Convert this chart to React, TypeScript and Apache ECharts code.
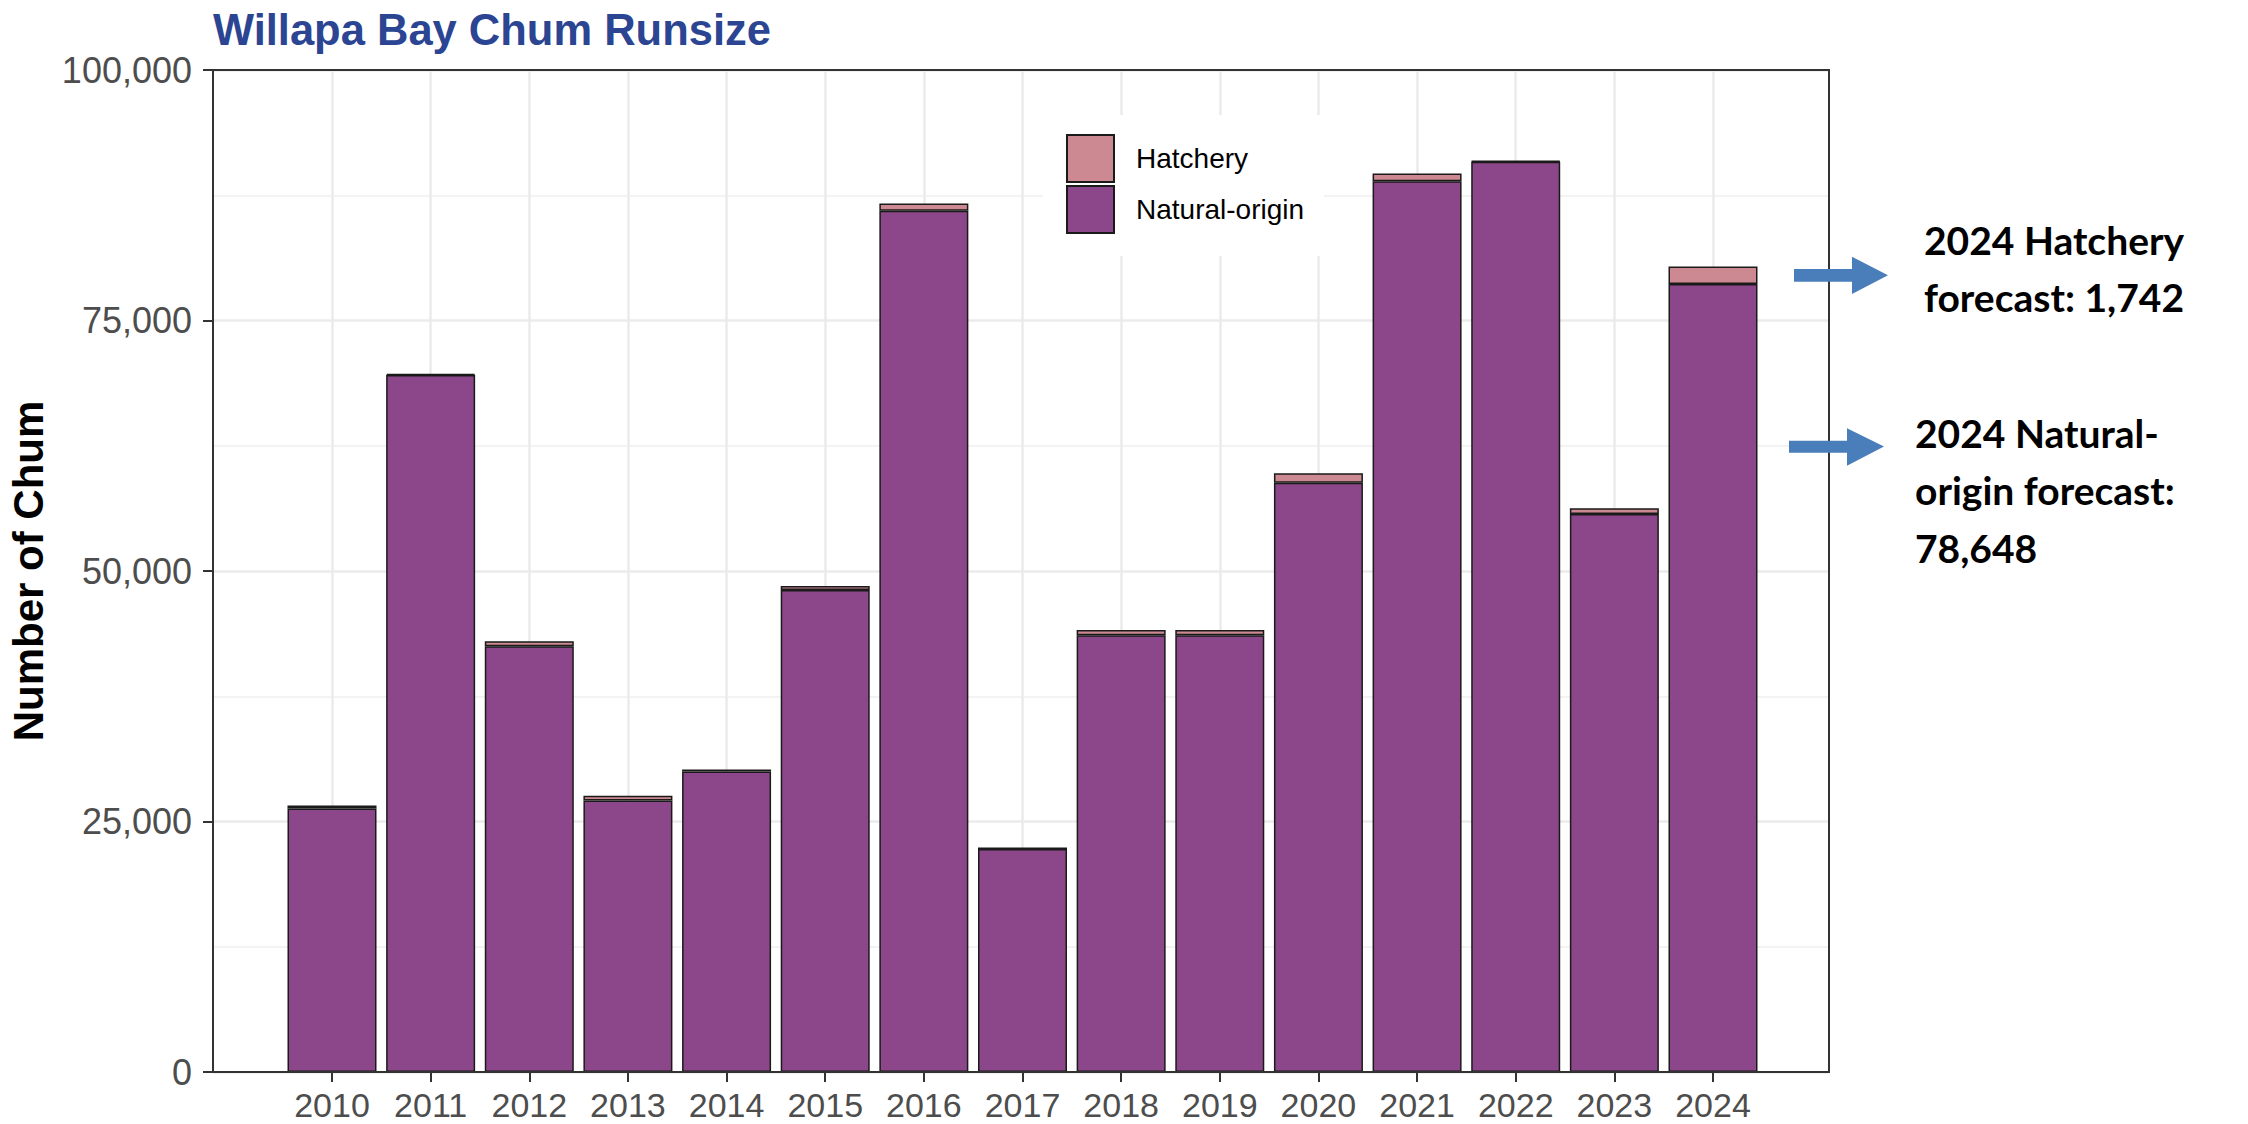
import React, { useEffect, useRef } from "react";
import * as echarts from "echarts";

const years = ["2010","2011","2012","2013","2014","2015","2016","2017","2018","2019","2020","2021","2022","2023","2024"];
const naturalOrigin = [26300, 69560, 42500, 27100, 30000, 48100, 85950, 22250, 43600, 43600, 58800, 88900, 90850, 55700, 78648];
const hatchery = [300, 100, 480, 460, 180, 400, 720, 150, 500, 500, 950, 760, 70, 570, 1742];
const yTicks = { min: 0, max: 100000, interval: 25000 };
const titleText = "Willapa Bay Chum Runsize";
const yAxisTitle = "Number of Chum";
const noteHatchery = ["2024 Hatchery", "forecast: 1,742"];
const noteNatural = ["2024 Natural-", "origin forecast:", "78,648"];

const SANS = "'Liberation Sans', Arial, sans-serif";
const NOTE_FONT = "Lato, 'Open Sans', sans-serif";

export default function App() {
  const ref = useRef<HTMLDivElement>(null);
  useEffect(() => {
    if (!ref.current) return;
    const chart = echarts.init(ref.current, null, { renderer: "svg" });
    const noteText = (lines: string[], x: number, mids: number[]) =>
      lines.map((t, i) => ({
        type: "text",
        x,
        y: mids[i],
        silent: true,
        style: {
          text: t,
          font: `bold 39px ${NOTE_FONT}`,
          fill: "#000",
          textAlign: "left",
          textVerticalAlign: "middle",
        },
        z: 10,
      }));
    const option: any = {
      animation: false,
      backgroundColor: "#fff",
      title: {
        text: titleText,
        left: 213,
        top: 8,
        padding: 0,
        textStyle: { fontFamily: SANS, fontSize: 43.5, fontWeight: "bold", color: "#2B4593" },
      },
      legend: {
        data: ["Hatchery", "Natural-origin"],
        orient: "vertical",
        left: 1043,
        top: 115,
        itemWidth: 47,
        itemHeight: 47,
        itemGap: 2,
        icon: "rect",
        backgroundColor: "#fff",
        padding: [19, 20, 22, 23],
        textStyle: { fontFamily: SANS, fontSize: 28, color: "#000", padding: [0, 0, 0, 17] },
      },
      grid: [
        { left: 213, top: 70, width: 1616, height: 1002, containLabel: false, outerBoundsMode: "none" },
        { left: 332, top: 70, width: 1381, height: 1002, containLabel: false, outerBoundsMode: "none" },
      ],
      xAxis: [
        { type: "value", gridIndex: 0, min: 0, max: 1, show: false },
        {
          type: "category",
          gridIndex: 1,
          data: years,
          boundaryGap: false,
          axisLine: { show: false },
          axisTick: { show: true, length: 10, inside: false, lineStyle: { color: "#333", width: 2 } },
          axisLabel: { fontFamily: SANS, fontSize: 34, color: "#4D4D4D", margin: 16 },
          splitLine: { show: true, lineStyle: { color: "#EBEBEB", width: 2.5 } },
        },
      ],
      yAxis: [
        {
          type: "value",
          gridIndex: 0,
          min: yTicks.min,
          max: yTicks.max,
          interval: yTicks.interval,
          name: yAxisTitle,
          nameLocation: "middle",
          nameRotate: 90,
          nameGap: 164,
          nameTextStyle: { fontFamily: SANS, fontSize: 42, fontWeight: "bold", color: "#000" },
          axisLine: { show: true, onZero: false, lineStyle: { color: "#333", width: 2 } },
          axisTick: { show: true, inside: false, length: 10, lineStyle: { color: "#333", width: 2 } },
          axisLabel: {
            fontFamily: SANS,
            fontSize: 36,
            color: "#4D4D4D",
            margin: 21,
            formatter: (v: number) => v.toLocaleString("en-US"),
          },
          splitLine: { show: true, lineStyle: { color: "#EBEBEB", width: 2.5 } },
          minorTick: { show: false, splitNumber: 2 },
          minorSplitLine: { show: true, lineStyle: { color: "#EFEFEF", width: 1.5 } },
        },
        { type: "value", gridIndex: 1, min: yTicks.min, max: yTicks.max, show: false },
      ],
      series: [
        {
          name: "Natural-origin",
          type: "bar",
          stack: "total",
          xAxisIndex: 1,
          yAxisIndex: 1,
          data: naturalOrigin,
          barWidth: 89,
          clip: false,
          itemStyle: { color: "#8B4789", borderColor: "#1a1a1a", borderWidth: 1.5 },
        },
        {
          name: "Hatchery",
          type: "bar",
          stack: "total",
          xAxisIndex: 1,
          yAxisIndex: 1,
          data: hatchery,
          barWidth: 89,
          clip: false,
          itemStyle: { color: "#CC8992", borderColor: "#1a1a1a", borderWidth: 1.5 },
        },
      ],
      graphic: [
        {
          type: "rect",
          silent: true,
          shape: { x: 213, y: 70, width: 1616, height: 1002 },
          style: { fill: "none", stroke: "#333", lineWidth: 2 },
          z: 3,
        },
        {
          type: "polygon",
          silent: true,
          shape: { points: [[1794, 269], [1852, 269], [1852, 256.7], [1888, 275.3], [1852, 294], [1852, 281.7], [1794, 281.7]] },
          style: { fill: "#4A7EBB" },
          z: 10,
        },
        {
          type: "polygon",
          silent: true,
          shape: { points: [[1789, 440.7], [1847, 440.7], [1847, 428.3], [1884, 446.5], [1847, 465.7], [1847, 452.7], [1789, 452.7]] },
          style: { fill: "#4A7EBB" },
          z: 10,
        },
        ...noteText(noteHatchery, 1924, [239.5, 296.5]),
        ...noteText(noteNatural, 1915, [432.8, 489.5, 547.8]),
      ],
    };
    chart.setOption(option);
    return () => chart.dispose();
  }, []);
  return (
    <div
      ref={ref}
      style={{ position: "fixed", left: 0, top: 0, width: 2248, height: 1124, background: "#fff" }}
    />
  );
}
